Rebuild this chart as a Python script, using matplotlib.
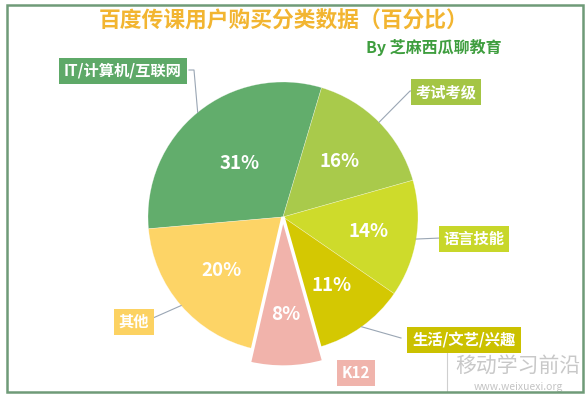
import matplotlib
matplotlib.use('Agg')
import matplotlib.pyplot as plt
import numpy as np
from matplotlib.patches import Rectangle

plt.rcParams['font.family'] = ['Noto Sans CJK SC', 'DejaVu Sans']

# data
categories = ['IT/计算机/互联网', '考试考级', '语言技能', '生活/文艺/兴趣', 'K12', '其他']
shares = [31, 16, 14, 11, 8, 20]
colors = ['#62ad6c', '#a9ca4b', '#cedb2b', '#d4c802', '#f1b3ab', '#fdd466']
box_colors = ['#5ea968', '#a4c544', '#c8d72a', '#cbc100', '#f0b4ac', '#fcd262']
title = '百度传课用户购买分类数据（百分比）'
subtitle = 'By 芝麻西瓜聊教育'

W, H = 588, 398
fig = plt.figure(figsize=(W / 100, H / 100), dpi=100)
ax = fig.add_axes([0, 0, 1, 1])

# pie geometry (pixels, y up)
cx, cy, R = 283, H - 217, 135
explode = [0, 0, 0, 0, 10 / R, 0]
wedges, _, pcts = ax.pie(shares, colors=colors, startangle=185, counterclock=False,
                         center=(cx, cy), radius=R, explode=explode,
                         autopct=lambda p: '%.0f%%' % p, pctdistance=0.6,
                         textprops=dict(color='white', fontsize=13.5, fontweight='bold'),
                         wedgeprops=dict(edgecolor=(1, 1, 1, 0.45), linewidth=0.4))
ax.set_xlim(0, W)
ax.set_ylim(0, H)
ax.axis('off')

# K12 slice pulled out and a bit longer, white rim
k12 = wedges[4]
k12.set_radius(150)
k12.set_edgecolor('white')
k12.set_linewidth(2.5)
k12.set_zorder(3)

# percent label radii (fraction of R)
pct_r = [0.51, 0.59, 0.64, 0.62, 0.72, 0.6]
for w, t, f in zip(wedges, pcts, pct_r):
    a = np.deg2rad((w.theta1 + w.theta2) / 2)
    x0, y0 = w.center
    t.set_position((x0 + f * R * np.cos(a), y0 + f * R * np.sin(a)))
    t.set_zorder(4)

# label boxes and leader lines (pixel coords, y down)
box_xy = [(123, 71), (446, 92), (474, 239), (464, 340), (356, 373), (134, 322)]
elbows = [[(194, 70), (189, 70)], [(410, 91), (413, 91)], [(441, 238)],
          [(401, 338)], [], [(153, 318)]]

for w, lab, bc, (bx, by), pts in zip(wedges, categories, box_colors, box_xy, elbows):
    if pts:
        a = np.deg2rad((w.theta1 + w.theta2) / 2)
        xs = [cx + R * np.cos(a)] + [p[0] for p in pts]
        ys = [cy + R * np.sin(a)] + [H - p[1] for p in pts]
        ax.plot(xs, ys, color='#9aa6b4', lw=0.8, zorder=1)
    ax.text(bx, H - by, lab, ha='center', va='center', color='white', fontsize=11,
            fontweight='bold', zorder=5,
            bbox=dict(boxstyle='square,pad=0.32', fc=bc, ec='none'))

ax.text(284, H - 21, title, ha='center', va='center', fontsize=15.7,
        fontweight='bold', color='#f2b531')
ax.text(434, H - 47, subtitle, ha='center', va='center', fontsize=11.5,
        fontweight='bold', color='#3f9e3f')

# watermark
ax.plot([447, 447], [H - 352, H - 392], color='#cfcfcf', lw=0.8)
ax.text(518, H - 366, '移动学习前沿', ha='center', va='center', fontsize=15,
        color='#c8c8c8')
ax.text(518, H - 387, 'www.weixuexi.org', ha='center', va='center', fontsize=7.5,
        color='#c4c4c4')

# frame
ax.add_patch(Rectangle((7, H - 392), 576, 387, fill=False, ec='#6f9b78', lw=1.8,
                       zorder=6))

fig.savefig('out.png', dpi=100)
